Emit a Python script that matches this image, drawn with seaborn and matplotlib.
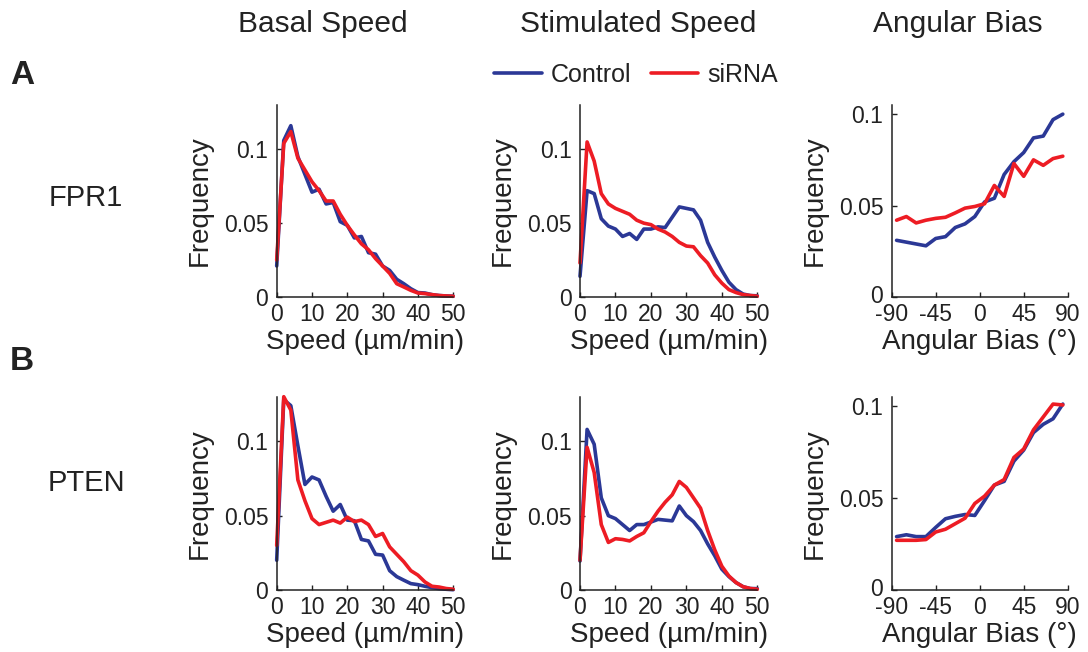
import numpy as np
import pandas as pd
import matplotlib
matplotlib.use("Agg")
import matplotlib.pyplot as plt
import matplotlib.transforms as mtransforms
from matplotlib.lines import Line2D
import seaborn as sns

# ---------------- data ----------------
speed_bins = [0, 2, 4, 6, 8, 10, 12, 14, 16, 18, 20, 22, 24, 26, 28, 30,
              32, 34, 36, 38, 40, 42, 44, 46, 48, 50]
angle_bins = [-85, -75, -65, -55, -45, -35, -25, -15, -5, 5, 15, 25, 35,
              45, 55, 65, 75, 85]

fpr1_basal_control = [0.021, 0.106, 0.116, 0.095, 0.083, 0.071, 0.073, 0.063,
                      0.064, 0.051, 0.0485, 0.040, 0.041, 0.030, 0.029, 0.021,
                      0.018, 0.012, 0.009, 0.0056, 0.003, 0.0027, 0.0016,
                      0.001, 0.0007, 0.0005]
fpr1_basal_sirna = [0.025, 0.104, 0.112, 0.094, 0.086, 0.078, 0.072, 0.065,
                    0.065, 0.056, 0.0485, 0.042, 0.036, 0.032, 0.026, 0.021,
                    0.016, 0.009, 0.0068, 0.0045, 0.0027, 0.0023, 0.0016,
                    0.001, 0.0007, 0.0005]

fpr1_stim_control = [0.014, 0.072, 0.070, 0.053, 0.048, 0.046, 0.041, 0.043,
                     0.039, 0.046, 0.046, 0.0475, 0.047, 0.054, 0.061, 0.060,
                     0.059, 0.052, 0.037, 0.027, 0.018, 0.010, 0.005, 0.002,
                     0.001, 0.0008]
fpr1_stim_sirna = [0.023, 0.105, 0.092, 0.070, 0.063, 0.060, 0.058, 0.056,
                   0.052, 0.050, 0.049, 0.046, 0.044, 0.041, 0.037, 0.0345,
                   0.034, 0.028, 0.023, 0.015, 0.0094, 0.005, 0.003, 0.0016,
                   0.001, 0.0005]

fpr1_angle_control = [0.031, 0.030, 0.029, 0.028, 0.032, 0.033, 0.038, 0.040,
                      0.044, 0.052, 0.054, 0.067, 0.074, 0.079, 0.087, 0.088,
                      0.097, 0.100]
fpr1_angle_sirna = [0.042, 0.044, 0.0405, 0.042, 0.043, 0.0436, 0.046, 0.0486,
                    0.0495, 0.051, 0.061, 0.055, 0.073, 0.066, 0.075, 0.072,
                    0.0757, 0.077]

pten_basal_control = [0.020, 0.128, 0.124, 0.097, 0.071, 0.076, 0.074, 0.063,
                      0.053, 0.0575, 0.047, 0.0466, 0.034, 0.033, 0.024,
                      0.0235, 0.013, 0.009, 0.0066, 0.0043, 0.0036, 0.0025,
                      0.0016, 0.0009, 0.0005, 0.0002]
pten_basal_sirna = [0.030, 0.130, 0.121, 0.074, 0.060, 0.048, 0.044, 0.0455,
                    0.047, 0.045, 0.049, 0.046, 0.047, 0.044, 0.036, 0.038,
                    0.029, 0.024, 0.019, 0.013, 0.010, 0.0054, 0.0025, 0.002,
                    0.001, 0.0005]

pten_stim_control = [0.0195, 0.108, 0.098, 0.062, 0.050, 0.048, 0.044, 0.040,
                     0.044, 0.044, 0.0457, 0.0475, 0.047, 0.0465, 0.0565,
                     0.050, 0.046, 0.040, 0.031, 0.023, 0.014, 0.009, 0.005,
                     0.0022, 0.001, 0.0009]
pten_stim_sirna = [0.020, 0.096, 0.079, 0.044, 0.032, 0.0345, 0.034, 0.033,
                   0.036, 0.0385, 0.046, 0.053, 0.059, 0.064, 0.073, 0.069,
                   0.062, 0.055, 0.040, 0.027, 0.016, 0.0094, 0.005, 0.0022,
                   0.001, 0.0005]

pten_angle_control = [0.029, 0.030, 0.029, 0.029, 0.034, 0.0387, 0.040, 0.041,
                      0.0405, 0.0486, 0.057, 0.059, 0.070, 0.076, 0.0855,
                      0.090, 0.093, 0.101]
pten_angle_sirna = [0.027, 0.027, 0.027, 0.0274, 0.0315, 0.033, 0.036, 0.039,
                    0.047, 0.051, 0.057, 0.060, 0.072, 0.0766, 0.087, 0.094,
                    0.101, 0.1005]

conditions = ["Control", "siRNA"]
column_titles = ["Basal Speed", "Stimulated Speed", "Angular Bias"]
row_labels = ["FPR1", "PTEN"]
panel_letters = ["A", "B"]
speed_ticks = [0, 10, 20, 30, 40, 50]
angle_ticks = [-90, -45, 0, 45, 90]
angle_ticklabels = ["-90", "-45", "0", "45", "90"]
freq_ticks = [0, 0.05, 0.1]
freq_ticklabels = ["0", "0.05", "0.1"]

# ---------------- style ----------------
sns.set_theme(style="ticks")
plt.rcParams["font.family"] = ["Liberation Sans", "DejaVu Sans"]
plt.rcParams["axes.linewidth"] = 1.1
plt.rcParams["axes.unicode_minus"] = False
palette = {"Control": "#2B3896", "siRNA": "#ED1C24"}
ink = "#222222"

W, H = 1088, 652
fig = plt.figure(figsize=(W / 100, H / 100), dpi=100)

col_px = [(276.7, 176.5), (580.0, 177.3), (891.7, 176.0)]
row_px = [(105.0, 297.0), (396.7, 590.0)]

panels = [
    [(speed_bins, fpr1_basal_control, fpr1_basal_sirna, "speed"),
     (speed_bins, fpr1_stim_control, fpr1_stim_sirna, "speed"),
     (angle_bins, fpr1_angle_control, fpr1_angle_sirna, "angle")],
    [(speed_bins, pten_basal_control, pten_basal_sirna, "speed"),
     (speed_bins, pten_stim_control, pten_stim_sirna, "speed"),
     (angle_bins, pten_angle_control, pten_angle_sirna, "angle")],
]

for r, row in enumerate(panels):
    top, bot = row_px[r]
    for c, (xs, ctrl, sirna, kind) in enumerate(row):
        left, width = col_px[c]
        ax = fig.add_axes([left / W, 1 - bot / H, width / W, (bot - top) / H])
        df = pd.DataFrame({
            "x": list(xs) * 2,
            "y": list(ctrl) + list(sirna),
            "cond": [conditions[0]] * len(xs) + [conditions[1]] * len(xs),
        })
        sns.lineplot(data=df, x="x", y="y", hue="cond", palette=palette,
                     hue_order=conditions, linewidth=2.6, legend=False,
                     ax=ax, clip_on=False)
        sns.despine(ax=ax)
        if kind == "speed":
            ax.set_xlim(0, 50)
            ax.set_ylim(0, 0.13)
            ax.set_xticks(speed_ticks)
            ax.set_xlabel("Speed (\u00b5m/min)", fontsize=20)
        else:
            ax.set_xlim(-90, 90)
            ax.set_ylim(0, 0.105)
            ax.set_xticks(angle_ticks)
            ax.set_xticklabels(angle_ticklabels)
            ax.set_xlabel("Angular Bias (\u00b0)", fontsize=20)
        ax.set_yticks(freq_ticks)
        ax.set_yticklabels(freq_ticklabels)
        ax.set_ylabel("Frequency", fontsize=20)
        ax.tick_params(direction="in", length=3.5, width=1.0, labelsize=16.5,
                       colors=ink, labelcolor=ink)
        ax.tick_params(axis="y", pad=6)
        ax.tick_params(axis="x", pad=4)
        if kind == "angle":
            # lift the "0" y label a touch so it clears the "-90" x label
            lab0 = ax.get_yticklabels()[0]
            lab0.set_transform(lab0.get_transform() +
                               mtransforms.ScaledTranslation(0, 3 / 100,
                                                             fig.dpi_scale_trans))
        for s in ("left", "bottom"):
            ax.spines[s].set_color(ink)
        ax.yaxis.set_label_coords(-0.365, 0.5)
        ax.xaxis.set_label_coords(0.5, -0.165)
        ax.xaxis.label.set_color(ink)
        ax.yaxis.label.set_color(ink)

# column titles
title_x = [323, 638, 958]
for t, x in zip(column_titles, title_x):
    fig.text(x / W, 1 - 24 / H, t, ha="center", va="center", fontsize=21.5,
             color=ink)

# row labels
for lab, y in zip(row_labels, [198, 483]):
    fig.text(86 / W, 1 - y / H, lab, ha="center", va="center", fontsize=21,
             color=ink)

# panel letters
for lab, y in zip(panel_letters, [75, 361]):
    fig.text(22 / W, 1 - y / H, lab, ha="center", va="center", fontsize=24,
             fontweight="bold", color=ink)

# legend
handles = [Line2D([], [], color=palette[k], linewidth=2.6) for k in conditions]
fig.legend(handles, conditions, loc="center", bbox_to_anchor=(636 / W, 1 - 75 / H),
           ncol=2, frameon=False, fontsize=18, handlelength=1.9,
           handletextpad=0.35, columnspacing=0.8, borderpad=0,
           labelcolor=ink)

fig.savefig("out.png", dpi=100)
